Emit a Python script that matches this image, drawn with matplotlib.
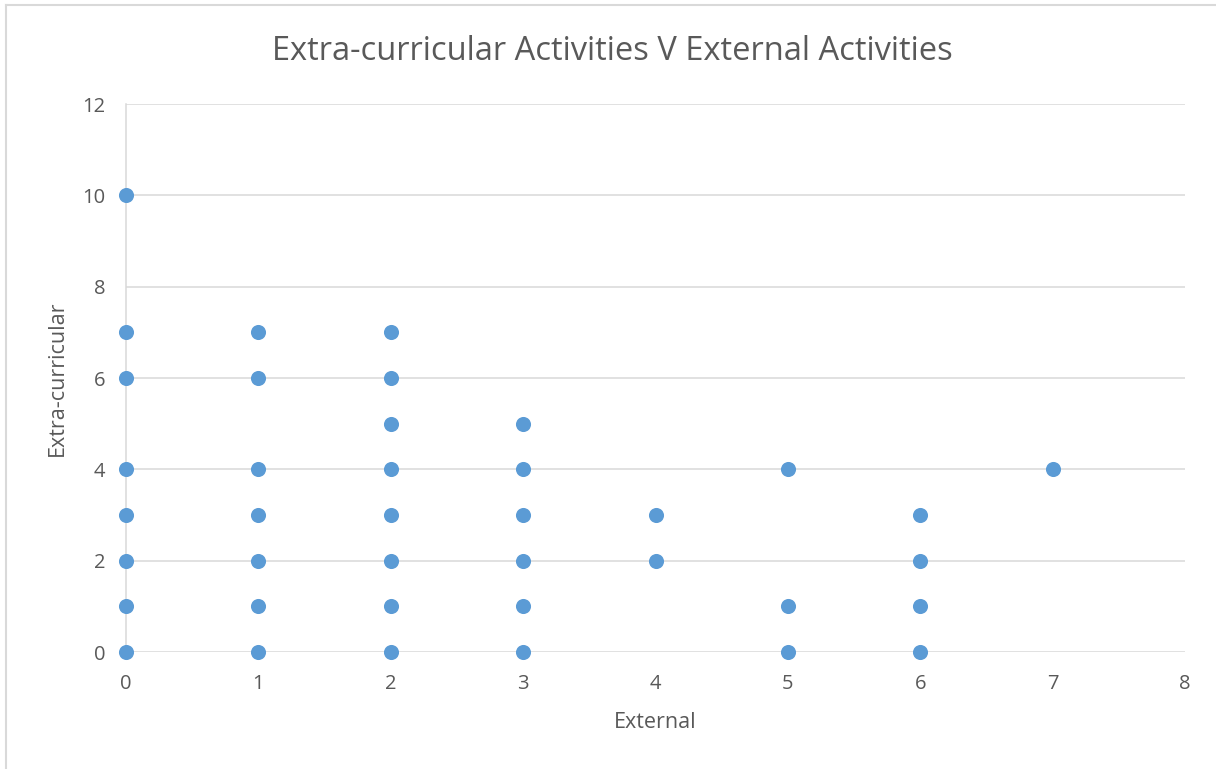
import matplotlib
matplotlib.use("Agg")
import matplotlib.pyplot as plt
from matplotlib.lines import Line2D

# Number of external activities (x) and extra-curricular activities (y)
external = [0, 0, 0, 0, 0, 0, 0, 0,
            1, 1, 1, 1, 1, 1, 1,
            2, 2, 2, 2, 2, 2, 2, 2,
            3, 3, 3, 3, 3, 3,
            4, 4,
            5, 5, 5,
            6, 6, 6, 6,
            7]
extra_curricular = [10, 7, 6, 4, 3, 2, 1, 0,
                    7, 6, 4, 3, 2, 1, 0,
                    7, 6, 5, 4, 3, 2, 1, 0,
                    5, 4, 3, 2, 1, 0,
                    3, 2,
                    4, 1, 0,
                    3, 2, 1, 0,
                    4]

x_ticks = [0, 1, 2, 3, 4, 5, 6, 7, 8]
y_ticks = [0, 2, 4, 6, 8, 10, 12]

plt.rcParams['font.family'] = ['Open Sans', 'DejaVu Sans']
text_color = '#595959'
grid_color = '#D9D9D9'
dot_color = '#5B9BD5'

W, H = 1216, 769
fig = plt.figure(figsize=(W / 100, H / 100), dpi=100)
fig.patch.set_facecolor('white')

# plot area in pixel coordinates
left, right, top, bottom = 126, 1185, 104, 652
ax = fig.add_axes([left / W, 1 - bottom / H, (right - left) / W, (bottom - top) / H])
ax.set_xlim(0, 8)
ax.set_ylim(0, 12)
ax.set_xticks(x_ticks)
ax.set_yticks(y_ticks)

ax.grid(axis='y', color=grid_color, linewidth=1.1)
ax.set_axisbelow(True)
for side in ['top', 'right', 'bottom']:
    ax.spines[side].set_visible(False)
ax.spines['left'].set_color(grid_color)
ax.spines['left'].set_linewidth(1.1)
ax.tick_params(length=0, colors=text_color, labelsize=14.5)
ax.tick_params(axis='y', pad=15)
ax.tick_params(axis='x', pad=16)

ax.scatter(external, extra_curricular, s=118, color=dot_color, zorder=3,
           clip_on=False, linewidths=0)

ax.set_xlabel('External', color=text_color, fontsize=15.5, labelpad=13)
ax.set_ylabel('Extra-curricular', color=text_color, fontsize=15.5, labelpad=10)

fig.text(612 / W, 1 - 52 / H, 'Extra-curricular Activities V External Activities',
         ha='center', va='center', color=text_color, fontsize=23.5)

# chart frame edges
fig.add_artist(Line2D([6 / W, 6 / W], [0, 1 - 5 / H], transform=fig.transFigure,
                      color=grid_color, linewidth=1.5))
fig.add_artist(Line2D([6 / W, 1], [1 - 5 / H, 1 - 5 / H], transform=fig.transFigure,
                      color=grid_color, linewidth=1.5))

fig.savefig('out.png', dpi=100)
